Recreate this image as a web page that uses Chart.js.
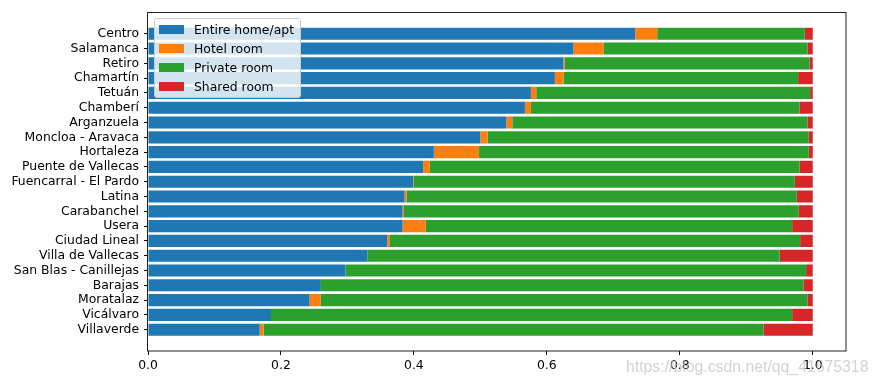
<!DOCTYPE html>
<html>
<head>
<meta charset="utf-8">
<script src="https://cdn.jsdelivr.net/npm/chart.js@4.4.0/dist/chart.umd.min.js"></script>
<style>
	body { margin: 0; background: #fff; }
	#wrap { position: relative; width: 878px; height: 387px; }
	#legend {
		position: absolute;
		box-sizing: border-box;
		background: rgba(255, 255, 255, 0.8);
		border: 1px solid #ccc;
		border-radius: 3px;
		padding: 1px 0 0 4px;
		font-family: 'DejaVu Sans', sans-serif;
		font-size: 12.4px;
		color: #000;
	}
	#watermark {
		position: absolute;
		left: 626px;
		top: 358px;
		font-family: 'Liberation Sans', Arial, sans-serif;
		font-size: 15.8px;
		color: rgba(195, 195, 195, 0.75);
		white-space: nowrap;
	}
</style>
</head>
<body>
<div id="wrap">
	<canvas id="chart" width="878" height="387"></canvas>
	<div id="legend"></div>
	<div id="watermark">https://blog.csdn.net/qq_41675318</div>
</div>
<script>
const neighbourhoods = ['Centro', 'Salamanca', 'Retiro', 'Chamartín', 'Tetuán', 'Chamberí', 'Arganzuela',
	'Moncloa - Aravaca', 'Hortaleza', 'Puente de Vallecas', 'Fuencarral - El Pardo', 'Latina', 'Carabanchel',
	'Usera', 'Ciudad Lineal', 'Villa de Vallecas', 'San Blas - Canillejas', 'Barajas', 'Moratalaz',
	'Vicálvaro', 'Villaverde'];

const entireHome = [0.733, 0.640, 0.625, 0.612, 0.576, 0.567, 0.539, 0.500, 0.430, 0.414, 0.399,
	0.386, 0.383, 0.383, 0.360, 0.330, 0.297, 0.260, 0.243, 0.185, 0.168];
const hotelRoom = [0.033, 0.045, 0.002, 0.013, 0.008, 0.009, 0.009, 0.011, 0.068, 0.010, 0.001,
	0.003, 0.002, 0.035, 0.004, 0.000, 0.000, 0.000, 0.017, 0.000, 0.006];
const privateRoom = [0.222, 0.307, 0.368, 0.353, 0.412, 0.404, 0.444, 0.483, 0.496, 0.556, 0.573,
	0.587, 0.594, 0.551, 0.617, 0.620, 0.693, 0.726, 0.732, 0.784, 0.752];
const sharedRoom = [0.012, 0.008, 0.005, 0.022, 0.004, 0.020, 0.008, 0.006, 0.006, 0.020, 0.027,
	0.024, 0.021, 0.031, 0.019, 0.050, 0.010, 0.014, 0.008, 0.031, 0.074];

const xTicks = [0, 0.2, 0.4, 0.6, 0.8, 1.0];

const series = [
	{label: 'Entire home/apt', values: entireHome, color: '#1f77b4'},
	{label: 'Hotel room', values: hotelRoom, color: '#ff7f0e'},
	{label: 'Private room', values: privateRoom, color: '#2ca02c'},
	{label: 'Shared room', values: sharedRoom, color: '#d62728'},
];

const font = {family: 'DejaVu Sans', size: 12.4};

// frame around the plot, like matplotlib spines
const framePlugin = {
	id: 'frame',
	afterDraw(chart) {
		const {ctx, chartArea: a} = chart;
		ctx.save();
		ctx.strokeStyle = '#222';
		ctx.lineWidth = 1;
		ctx.strokeRect(Math.round(a.left) - 0.5, Math.round(a.top) + 0.5,
			Math.round(a.right - a.left) + 0.5, Math.round(a.bottom - a.top) - 0.5);
		ctx.restore();
	}
};

const htmlLegendPlugin = {
	id: 'htmlLegend',
	afterUpdate(chart) {
		const box = document.getElementById('legend');
		while (box.firstChild) {
			box.firstChild.remove();
		}
		const a = chart.chartArea;
		box.style.left = (a.left + 6) + 'px';
		box.style.top = (a.top + 6) + 'px';
		box.style.width = '147px';
		box.style.height = '80px';

		chart.data.datasets.forEach(ds => {
			const row = document.createElement('div');
			row.style.display = 'flex';
			row.style.alignItems = 'center';
			row.style.height = '18.8px';

			const swatch = document.createElement('span');
			swatch.style.display = 'inline-block';
			swatch.style.width = '25px';
			swatch.style.height = '9px';
			swatch.style.background = ds.backgroundColor;
			swatch.style.marginRight = '10px';

			const text = document.createElement('span');
			text.textContent = ds.label;

			row.appendChild(swatch);
			row.appendChild(text);
			box.appendChild(row);
		});
	}
};

new Chart(document.getElementById('chart'), {
	type: 'bar',
	data: {
		datasets: series.map(s => ({
			label: s.label,
			data: s.values.map((v, i) => ({x: v, y: i})),
			backgroundColor: s.color,
			borderWidth: 0,
			categoryPercentage: 1,
			barPercentage: 0.82
		}))
	},
	options: {
		indexAxis: 'y',
		responsive: false,
		devicePixelRatio: 1,
		animation: false,
		layout: {padding: {top: 11, right: 32, left: 0, bottom: 0}},
		plugins: {
			legend: {display: false},
			tooltip: {enabled: false}
		},
		scales: {
			x: {
				type: 'linear',
				stacked: true,
				min: 0,
				max: 1.05,
				afterBuildTicks: s => { s.ticks = xTicks.map(v => ({value: v})); },
				afterFit: s => { s.height = 36; },
				ticks: {
					callback: v => Number(v).toFixed(1),
					color: '#000',
					font: font,
					padding: 3,
					maxRotation: 0
				},
				grid: {drawOnChartArea: false, tickLength: 4, color: '#000'},
				border: {display: false}
			},
			y: {
				type: 'linear',
				stacked: true,
				reverse: true,
				offset: false,
				min: -1.44,
				max: 21.44,
				afterBuildTicks: s => { s.ticks = neighbourhoods.map((_, i) => ({value: i})); },
				afterFit: s => { s.width = 148; },
				ticks: {
					callback: v => neighbourhoods[v],
					autoSkip: false,
					color: '#000',
					font: font,
					padding: 5
				},
				grid: {drawOnChartArea: false, offset: false, tickLength: 4, color: '#000'},
				border: {display: false}
			}
		}
	},
	plugins: [framePlugin, htmlLegendPlugin]
});
</script>
</body>
</html>
